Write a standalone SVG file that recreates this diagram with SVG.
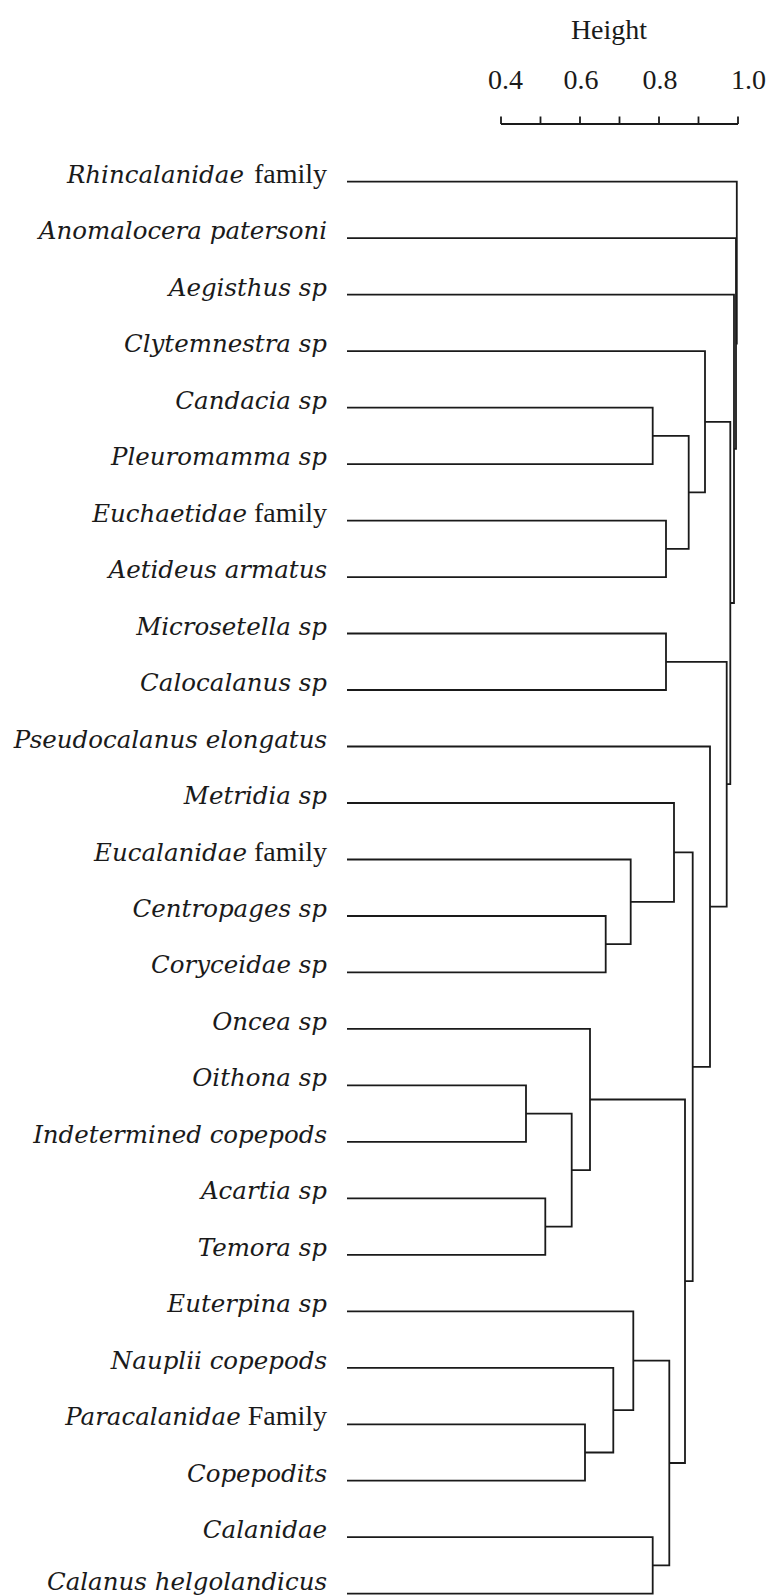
<svg xmlns="http://www.w3.org/2000/svg" width="771" height="1596" viewBox="0 0 771 1596">
<style>
.it{font-family:"DejaVu Serif",serif;font-style:italic;font-size:24.5px;fill:#1a1a1a}
.rm{font-family:"Liberation Serif","Times New Roman",serif;font-style:normal;font-size:28px;fill:#1a1a1a}
.ax{font-family:"Liberation Serif","Times New Roman",serif;font-size:28px;fill:#1a1a1a}
.ln{fill:none;stroke:#1a1a1a;stroke-width:1.8}
.lab{text-anchor:end}
</style>
<rect width="771" height="1596" fill="#fff"/>
<g id="axis">
<text class="ax" x="609" y="39" text-anchor="middle" font-size="27">Height</text>
<text class="ax" x="505.5" y="89" text-anchor="middle">0.4</text>
<text class="ax" x="581" y="89" text-anchor="middle">0.6</text>
<text class="ax" x="660" y="89" text-anchor="middle">0.8</text>
<text class="ax" x="748.5" y="89" text-anchor="middle">1.0</text>
<path class="ln" d="M501 124H738M501 116.5V124M540.5 116.5V124M580 116.5V124M619.5 116.5V124M659 116.5V124M698.5 116.5V124M738 116.5V124"/>
</g>
<g id="connectors" class="ln">
<path d="M347 407.6H652.7V464.1H347"/>
<path d="M347 520.6H666V577.1H347"/>
<path d="M652.7 435.9H688.7V548.9H666"/>
<path d="M347 351.1H705V492.4H688.7"/>
<path d="M347 633.5H666V690H347"/>
<path d="M347 916H605.7V972.4H347"/>
<path d="M347 859.5H630.7V944.2H605.7"/>
<path d="M347 803H674V901.9H630.7"/>
<path d="M347 1085.4H526V1141.9H347"/>
<path d="M347 1198.3H545.3V1254.8H347"/>
<path d="M526 1113.7H571.7V1226.6H545.3"/>
<path d="M347 1028.9H590V1170.1H571.7"/>
<path d="M347 1424.3H585V1480.7H347"/>
<path d="M347 1367.8H613.3V1452.5H585"/>
<path d="M347 1311.3H633.3V1410.1H613.3"/>
<path d="M347 1537.2H652.7V1593.7H347"/>
<path d="M633.3 1360.7H669.3V1565.4H652.7"/>
<path d="M590 1099.5H685V1463H669.3"/>
<path d="M674 852.4H692.7V1281.2H685"/>
<path d="M347 746.5H710V1066.8H692.7"/>
<path d="M666 661.8H726.7V906.6H710"/>
<path d="M705 421.8H730.3V784.2H726.7"/>
<path d="M347 294.7H734V603H730.3"/>
<path d="M347 238.2H736V448.9H734"/>
<path d="M347 181.7H736.8V343.5H736"/>
</g>
<g id="leaf-rhincalanidae"><text class="lab" x="327" y="182.5"><tspan class="it">Rhincalanidae</tspan><tspan class="rm" dx="10">family</tspan></text></g>
<g id="leaf-anomalocera"><text class="it lab" x="327" y="239">Anomalocera patersoni</text></g>
<g id="leaf-aegisthus"><text class="it lab" x="327" y="295.5">Aegisthus sp</text></g>
<g id="leaf-clytemnestra"><text class="it lab" x="327" y="352">Clytemnestra sp</text></g>
<g id="leaf-candacia"><text class="it lab" x="327" y="408.5">Candacia sp</text></g>
<g id="leaf-pleuromamma"><text class="it lab" x="327" y="465">Pleuromamma sp</text></g>
<g id="leaf-euchaetidae"><text class="lab" x="327" y="521.5"><tspan class="it">Euchaetidae</tspan><tspan class="rm"> family</tspan></text></g>
<g id="leaf-aetideus"><text class="it lab" x="327" y="578">Aetideus armatus</text></g>
<g id="leaf-microsetella"><text class="it lab" x="327" y="634.5">Microsetella sp</text></g>
<g id="leaf-calocalanus"><text class="it lab" x="327" y="691">Calocalanus sp</text></g>
<g id="leaf-pseudocalanus"><text class="it lab" x="327" y="747.5">Pseudocalanus elongatus</text></g>
<g id="leaf-metridia"><text class="it lab" x="327" y="804">Metridia sp</text></g>
<g id="leaf-eucalanidae"><text class="lab" x="327" y="860.5"><tspan class="it">Eucalanidae</tspan><tspan class="rm"> family</tspan></text></g>
<g id="leaf-centropages"><text class="it lab" x="327" y="917">Centropages sp</text></g>
<g id="leaf-coryceidae"><text class="it lab" x="327" y="973.4">Coryceidae sp</text></g>
<g id="leaf-oncea"><text class="it lab" x="327" y="1029.9">Oncea sp</text></g>
<g id="leaf-oithona"><text class="it lab" x="327" y="1086.4">Oithona sp</text></g>
<g id="leaf-indetermined"><text class="it lab" x="327" y="1142.9">Indetermined copepods</text></g>
<g id="leaf-acartia"><text class="it lab" x="327" y="1199.3">Acartia sp</text></g>
<g id="leaf-temora"><text class="it lab" x="327" y="1255.8">Temora sp</text></g>
<g id="leaf-euterpina"><text class="it lab" x="327" y="1312.3">Euterpina sp</text></g>
<g id="leaf-nauplii"><text class="it lab" x="327" y="1368.8">Nauplii copepods</text></g>
<g id="leaf-paracalanidae"><text class="lab" x="327" y="1425.3"><tspan class="it">Paracalanidae</tspan><tspan class="rm"> Family</tspan></text></g>
<g id="leaf-copepodits"><text class="it lab" x="327" y="1481.7">Copepodits</text></g>
<g id="leaf-calanidae"><text class="it lab" x="327" y="1538.2">Calanidae</text></g>
<g id="leaf-calanus"><text class="it lab" x="327" y="1590">Calanus helgolandicus</text></g>
</svg>
